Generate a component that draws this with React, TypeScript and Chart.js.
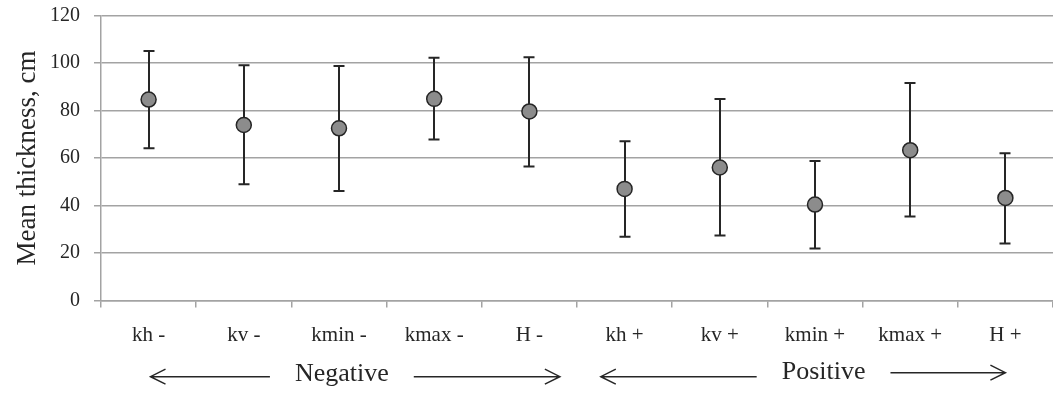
import React, { useEffect, useRef } from "react";
import { Chart, registerables } from "chart.js";

Chart.register(...registerables);

// Categories along the x axis (loading direction / parameter)
const categories = ["kh -", "kv -", "kmin -", "kmax -", "H -", "kh +", "kv +", "kmin +", "kmax +", "H +"];
// Mean thickness (cm) per category
const meanThickness = [84.6, 73.9, 72.5, 84.9, 79.6, 47.0, 56.0, 40.4, 63.3, 43.2];
// Error bar upper and lower ends (cm)
const upperBound = [105.1, 99.1, 98.7, 102.2, 102.4, 67.1, 84.8, 58.7, 91.6, 62.0];
const lowerBound = [64.1, 49.0, 46.1, 67.8, 56.4, 26.8, 27.4, 21.9, 35.4, 24.0];
// Y axis range
const yMin = 0;
const yMax = 120;
const yStep = 20;
// Group captions under the axis
const groupNames = ["Negative", "Positive"];

const SERIF = '"Liberation Serif", "Times New Roman", serif';
const TEXT = "#262626";
const GRID = "#a3a3a3";

const errorBarsPlugin = {
  id: "errorBars",
  beforeDatasetsDraw(chart: any) {
    const { ctx, scales } = chart;
    const x = scales.x;
    const y = scales.y;
    ctx.save();
    ctx.strokeStyle = "#262626";
    ctx.lineWidth = 2;
    const cap = 5.5;
    categories.forEach((_, i) => {
      const px = Math.round(x.getPixelForValue(i));
      const top = y.getPixelForValue(upperBound[i]);
      const bot = y.getPixelForValue(lowerBound[i]);
      ctx.beginPath();
      ctx.moveTo(px, top);
      ctx.lineTo(px, bot);
      ctx.moveTo(px - cap, top);
      ctx.lineTo(px + cap, top);
      ctx.moveTo(px - cap, bot);
      ctx.lineTo(px + cap, bot);
      ctx.stroke();
    });
    ctx.restore();
  },
};

function drawArrow(ctx: CanvasRenderingContext2D, x1: number, x2: number, y: number) {
  // arrow from x1 (tail) to x2 (head) with an open chevron head
  const dir = Math.sign(x2 - x1);
  ctx.beginPath();
  ctx.moveTo(x1, y);
  ctx.lineTo(x2, y);
  ctx.moveTo(x2 - dir * 15, y - 7.5);
  ctx.lineTo(x2, y);
  ctx.lineTo(x2 - dir * 15, y + 7.5);
  ctx.stroke();
}

// Group captions with arrows, anchored to category positions on the x scale
const groupSpans = [
  { from: 0.02, center: 2.03, to: 4.32, textY: 381, leftY: 376.7, rightY: 376.7 },
  { from: 4.75, center: 7.09, to: 9.0, textY: 378.5, leftY: 376.7, rightY: 372.7 },
];

const groupCaptionPlugin = {
  id: "groupCaptions",
  afterDraw(chart: any) {
    const { ctx, scales } = chart;
    const x = scales.x;
    ctx.save();
    ctx.font = `26px ${SERIF}`;
    ctx.fillStyle = TEXT;
    ctx.strokeStyle = TEXT;
    ctx.lineWidth = 1.5;
    ctx.textAlign = "center";
    ctx.textBaseline = "alphabetic";
    groupSpans.forEach((g, i) => {
      const name = groupNames[i];
      const cx = x.getPixelForValue(g.center);
      const w = ctx.measureText(name).width;
      ctx.fillText(name, cx, g.textY);
      const gap = 25;
      drawArrow(ctx, cx - w / 2 - gap, x.getPixelForValue(g.from), g.leftY);
      drawArrow(ctx, cx + w / 2 + gap, x.getPixelForValue(g.to), g.rightY);
    });
    ctx.restore();
  },
};

export default function App() {
  const canvasRef = useRef<HTMLCanvasElement | null>(null);

  useEffect(() => {
    if (!canvasRef.current) return;
    const chart = new Chart(canvasRef.current, {
      type: "line",
      data: {
        labels: categories,
        datasets: [
          {
            label: "Mean thickness",
            data: meanThickness,
            showLine: false,
            pointStyle: "circle",
            pointRadius: 7.5,
            pointHoverRadius: 7.5,
            pointBackgroundColor: "#8c8c8c",
            pointBorderColor: "#262626",
            pointBorderWidth: 1.5,
          },
        ],
      },
      options: {
        responsive: false,
        animation: false,
        events: [],
        layout: { padding: { top: 15.5, right: 4, left: 0, bottom: 0 } },
        plugins: {
          legend: { display: false },
          tooltip: { enabled: false },
          title: { display: false },
        },
        scales: {
          x: {
            type: "category",
            offset: true,
            afterFit(scale: any) {
              scale.height = 92.5;
              scale.paddingLeft = 0;
              scale.paddingRight = 0;
            },
            grid: {
              offset: true,
              drawOnChartArea: false,
              drawTicks: true,
              tickLength: 7,
              color: GRID,
              lineWidth: 1.5,
            },
            border: { display: true, color: GRID, width: 1.5 },
            ticks: {
              color: TEXT,
              font: { family: SERIF, size: 21 },
              padding: 15,
              maxRotation: 0,
              autoSkip: false,
            },
          },
          y: {
            min: yMin,
            max: yMax,
            afterFit(scale: any) {
              scale.width = 101;
              scale.paddingTop = 0;
              scale.paddingBottom = 0;
            },
            ticks: {
              stepSize: yStep,
              color: TEXT,
              font: { family: SERIF, size: 20 },
              padding: 14,
            },
            grid: {
              color: GRID,
              lineWidth: 1.5,
              tickLength: 7,
            },
            border: { display: true, color: GRID, width: 1.5 },
            title: {
              display: true,
              text: "Mean thickness, cm",
              color: TEXT,
              font: { family: SERIF, size: 27 },
              padding: { top: 12, bottom: 0 },
            },
          },
        },
      },
      plugins: [errorBarsPlugin, groupCaptionPlugin],
    } as any);
    return () => chart.destroy();
  }, []);

  return (
    <div
      style={{
        position: "fixed",
        left: 0,
        top: 0,
        width: 1053,
        height: 393,
        overflow: "hidden",
        background: "#ffffff",
      }}
    >
      <canvas ref={canvasRef} width={1062} height={393} style={{ display: "block" }} />
    </div>
  );
}
